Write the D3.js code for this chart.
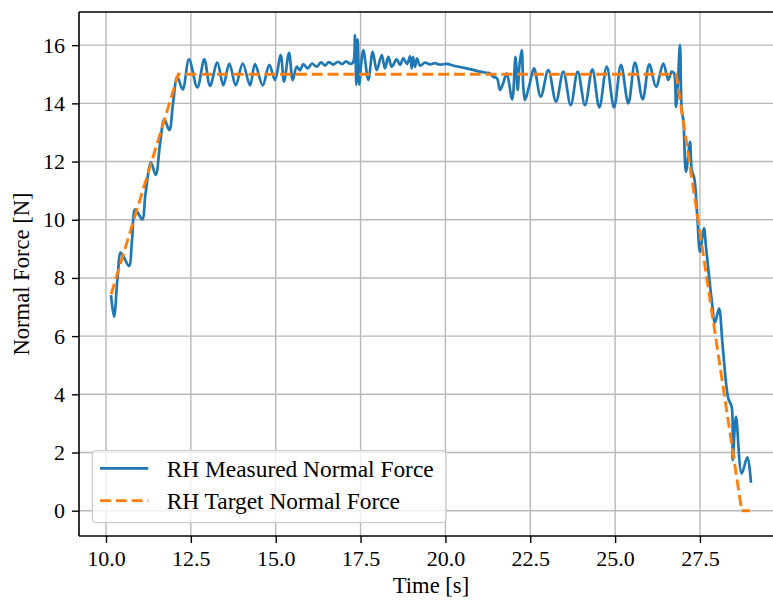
<!DOCTYPE html>
<html>
<head>
<meta charset="utf-8">
<script src="https://cdn.jsdelivr.net/npm/d3@7"></script>
<style>
html,body{margin:0;padding:0;background:#fff;overflow:hidden;}
svg{display:block;}
text{font-family:"Liberation Serif","Times New Roman",serif;}
</style>
</head>
<body>
<svg id="chart" width="773" height="601"></svg>
<script>
// ---- data ----
const measuredTime = [10.147,10.236,10.339,10.433,10.530,10.678,10.766,10.854,10.958,11.070,11.164,11.326,11.464,11.591,11.718,11.865,11.974,12.101,12.260,12.445,12.690,12.896,13.064,13.279,13.456,13.633,13.821,14.028,14.243,14.390,14.617,14.811,14.979,15.147,15.245,15.392,15.501,15.619,15.716,15.813,15.943,16.070,16.208,16.335,16.453,16.570,16.688,16.836,16.953,17.071,17.189,17.277,17.336,17.375,17.416,17.463,17.513,17.581,17.728,17.858,17.976,18.123,18.220,18.318,18.418,18.565,18.662,18.760,18.869,18.957,19.007,19.045,19.104,19.163,19.252,19.399,19.546,19.694,19.841,20.038,20.224,20.430,20.627,20.813,21.019,21.217,21.314,21.411,21.520,21.609,21.706,21.806,21.968,22.065,22.130,22.177,22.248,22.295,22.345,22.472,22.611,22.808,23.032,23.259,23.474,23.692,23.898,24.113,24.328,24.535,24.753,24.968,25.174,25.389,25.586,25.813,26.008,26.205,26.420,26.567,26.667,26.735,26.794,26.844,26.912,26.962,27.010,27.089,27.207,27.257,27.334,27.422,27.501,27.619,27.678,27.846,27.944,28.061,28.170,28.335,28.435,28.465,28.562,28.730,28.895,29.004];
const measuredForce = [7.41,6.67,8.00,8.87,8.70,8.41,9.30,10.36,10.20,10.01,10.90,11.96,11.54,12.60,13.45,13.08,14.00,14.91,14.48,15.51,14.55,15.51,14.60,15.40,14.62,15.37,14.62,15.37,14.62,15.35,14.62,15.32,14.80,15.66,14.75,15.74,14.80,15.26,15.14,15.35,15.20,15.37,15.26,15.41,15.30,15.42,15.33,15.43,15.35,15.44,15.36,15.40,16.35,14.64,16.20,14.64,15.30,15.83,14.81,15.77,15.14,15.66,15.20,15.60,15.26,15.51,15.32,15.55,15.35,15.62,15.20,15.60,15.25,15.55,15.30,15.40,15.34,15.38,15.33,15.36,15.30,15.25,15.20,15.15,15.09,15.05,15.03,14.91,14.86,14.46,14.71,15.03,14.14,15.60,14.46,15.26,15.83,14.57,14.11,14.62,15.20,14.23,15.14,14.06,15.09,13.94,15.09,13.94,15.17,13.86,15.26,13.86,15.32,14.00,15.40,14.14,15.34,14.57,15.37,14.80,15.09,15.03,13.88,14.57,16.00,13.77,13.42,11.65,12.68,11.71,11.42,10.10,8.90,9.70,9.07,7.24,6.46,6.95,5.64,3.86,3.57,1.74,3.23,1.28,1.83,0.96];
const targetTime = [10.15,12.13,26.80,28.73,28.97];
const targetForce = [7.44,15.0,15.0,0.0,0.0];
const xTicks = [10,12.5,15,17.5,20,22.5,25,27.5];
const yTicks = [0,2,4,6,8,10,12,14,16];
const seriesNames = ["RH Measured Normal Force","RH Target Normal Force"];
const xLabel = "Time [s]";
const yLabel = "Normal Force [N]";

// ---- layout ----
const plot = {left:79, right:783, top:12, bottom:536};
const FS_TICK = 22, FS_LABEL = 22.6, FS_LEG = 23.4;

const svg = d3.select("#chart");
const x = d3.scaleLinear().domain([9.204, 29.947]).range([plot.left, plot.right]);
const y = d3.scaleLinear().domain([-0.87, 17.14]).range([plot.bottom, plot.top]);

svg.append("defs").append("clipPath").attr("id","clip")
  .append("rect").attr("x",plot.left).attr("y",plot.top)
  .attr("width",plot.right-plot.left).attr("height",plot.bottom-plot.top);

// grid
const grid = svg.append("g").attr("clip-path","url(#clip)");
grid.selectAll("line.gx").data(xTicks).enter().append("line")
  .attr("x1",d=>x(d)).attr("x2",d=>x(d)).attr("y1",plot.top).attr("y2",plot.bottom)
  .attr("stroke","#b8b8b8").attr("stroke-width",1.4);
grid.selectAll("line.gy").data(yTicks).enter().append("line")
  .attr("x1",plot.left).attr("x2",plot.right).attr("y1",d=>y(d)).attr("y2",d=>y(d))
  .attr("stroke","#b8b8b8").attr("stroke-width",1.4);

// lines
const lines = svg.append("g").attr("clip-path","url(#clip)");
const measured = measuredTime.map((t,i)=>[t, measuredForce[i]]);
const target = targetTime.map((t,i)=>[t, targetForce[i]]);
const lineM = d3.line().x(d=>x(d[0])).y(d=>y(d[1])).curve(d3.curveCatmullRom.alpha(0.5));
const lineT = d3.line().x(d=>x(d[0])).y(d=>y(d[1]));
lines.append("path").attr("d",lineM(measured)).attr("fill","none")
  .attr("stroke","#1f77b4").attr("stroke-width",2.7).attr("stroke-linejoin","round");
lines.append("path").attr("d",lineT(target)).attr("fill","none")
  .attr("stroke","#ff7f0e").attr("stroke-width",2.9).attr("stroke-dasharray","11,4.8");

// axes
const xAxis = d3.axisBottom(x).tickValues(xTicks).tickFormat(d3.format(".1f")).tickSize(7).tickPadding(7.5);
const yAxis = d3.axisLeft(y).tickValues(yTicks).tickFormat(d3.format("d")).tickSize(7).tickPadding(7);
const gx = svg.append("g").attr("transform",`translate(0,${plot.bottom})`).call(xAxis);
const gy = svg.append("g").attr("transform",`translate(${plot.left},0)`).call(yAxis);
[gx,gy].forEach(g=>{
  g.select(".domain").remove();
  g.selectAll(".tick line").attr("stroke","#000").attr("stroke-width",1.4);
  g.selectAll(".tick text").attr("fill","#000").style("font-size",FS_TICK+"px")
    .style("font-family",'"Liberation Serif","Times New Roman",serif');
});

// spines
const spine = (x1,y1,x2,y2)=>svg.append("line").attr("x1",x1).attr("y1",y1).attr("x2",x2).attr("y2",y2)
  .attr("stroke","#000").attr("stroke-width",1.6);
spine(plot.left,plot.top,plot.left,plot.bottom);
spine(plot.left,plot.bottom,plot.right,plot.bottom);
spine(plot.left,plot.top,plot.right,plot.top);
spine(plot.right,plot.top,plot.right,plot.bottom);

// axis labels
svg.append("text").attr("x",(plot.left+plot.right)/2).attr("y",593).attr("text-anchor","middle")
  .style("font-size",FS_LABEL+"px").text(xLabel);
svg.append("text").attr("transform",`translate(29,${(plot.top+plot.bottom)/2}) rotate(-90)`)
  .attr("text-anchor","middle").style("font-size",FS_LABEL+"px").text(yLabel);

// legend
const lg = svg.append("g");
lg.append("rect").attr("x",92.3).attr("y",450.7).attr("width",353.7).attr("height",72).attr("rx",4)
  .attr("fill","#fff").attr("fill-opacity",0.8).attr("stroke","#cccccc").attr("stroke-width",1.3);
const legendItems = [
  {name:seriesNames[0], color:"#1f77b4", dash:null, y:468.3},
  {name:seriesNames[1], color:"#ff7f0e", dash:"11,4.8", y:500.7}
];
legendItems.forEach(it=>{
  lg.append("line").attr("x1",100).attr("x2",148.3).attr("y1",it.y).attr("y2",it.y)
    .attr("stroke",it.color).attr("stroke-width",2.8).attr("stroke-dasharray",it.dash);
  lg.append("text").attr("x",166.7).attr("y",it.y+8.2).style("font-size",FS_LEG+"px").text(it.name);
});
</script>
</body>
</html>
